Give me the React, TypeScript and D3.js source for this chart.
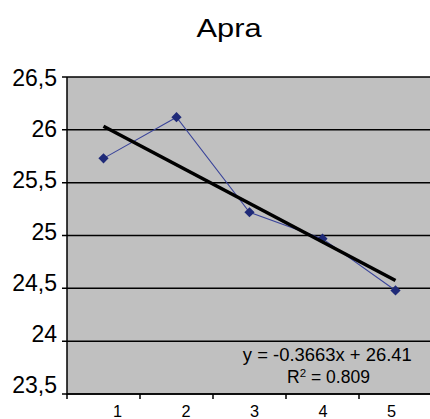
import React from "react";
import * as d3 from "d3";

const title = "Apra";
const categories = [1, 2, 3, 4, 5];
const values = [25.73, 26.12, 25.22, 24.97, 24.48];
const yTicks = [23.5, 24, 24.5, 25, 25.5, 26, 26.5];
const equationText = "y = -0.3663x + 26.41";
const r2Value = "0.809";

const W = 430;
const H = 419;
const left = 67;
const right = 432;
const top = 77;
const bottom = 394;
const step = 73;

export default function App() {
  const x = d3
    .scaleBand<number>()
    .domain(categories)
    .range([left, left + step * categories.length])
    .padding(0);
  const xPos = (c: number) => (x(c) as number) + x.bandwidth() / 2;
  const xLabel = d3.scalePoint<number>().domain(categories).range([117.5, 391.5]);
  const y = d3.scaleLinear().domain([23.5, 26.5]).range([bottom, top]);
  const yLabel = d3.scaleLinear().domain([23.5, 26.5]).range([385, 77.5]);

  // linear regression for trendline
  const n = values.length;
  const mx = d3.mean(categories)!;
  const my = d3.mean(values)!;
  const slope =
    d3.sum(categories.map((xi, i) => (xi - mx) * (values[i] - my))) /
    d3.sum(categories.map((xi) => (xi - mx) ** 2));
  const intercept = my - slope * mx;
  const trend = [categories[0], categories[n - 1]].map(
    (c) => [xPos(c), y(intercept + slope * c)] as [number, number]
  );

  const line = d3
    .line<number>()
    .x((_, i) => xPos(categories[i]))
    .y((v) => y(v));
  const marker = d3.symbol().type(d3.symbolSquare).size(52)()!;

  const tickXs = categories.map((c) => x(c) as number).concat([left + step * categories.length]);

  return (
    <svg
      width={W}
      height={H}
      style={{ position: "absolute", left: 0, top: 0, fontFamily: "Arial, 'Liberation Sans', sans-serif" }}
    >
      <rect x={0} y={0} width={W} height={H} fill="#fff" />
      <text x={229} y={37} textAnchor="middle" fontSize={26.5} fill="#000" textLength={65} lengthAdjust="spacingAndGlyphs">
        {title}
      </text>
      <rect x={left} y={top} width={right - left} height={bottom - top} fill="#c0c0c0" />
      {yTicks.map((t) => (
        <g key={t}>
          <line x1={left - 5} x2={right} y1={y(t)} y2={y(t)} stroke="#000" strokeWidth={1.5} />
          <text x={57} y={yLabel(t)} dy="0.36em" textAnchor="end" fontSize={23} fill="#000">
            {String(t).replace(".", ",")}
          </text>
        </g>
      ))}
      <line x1={left} x2={left} y1={top} y2={bottom + 1} stroke="#000" strokeWidth={1.5} />
      <line x1={left} x2={right} y1={bottom} y2={bottom} stroke="#000" strokeWidth={1.5} />
      {tickXs.map((tx, i) => (
        <line key={i} x1={tx} x2={tx} y1={bottom} y2={bottom + 5} stroke="#000" strokeWidth={1.5} />
      ))}
      {categories.map((c) => (
        <text key={c} x={xLabel(c)} y={417.3} textAnchor="middle" fontSize={16.3} fill="#000">
          {c}
        </text>
      ))}
      <path d={line(values)!} fill="none" stroke="#3a449a" strokeWidth={1.1} />
      {values.map((v, i) => (
        <path
          key={i}
          d={marker}
          transform={`translate(${xPos(categories[i])},${y(v)}) rotate(45)`}
          fill="#1f2a78"
        />
      ))}
      <line
        x1={trend[0][0]}
        y1={trend[0][1]}
        x2={trend[1][0]}
        y2={trend[1][1]}
        stroke="#000"
        strokeWidth={3.6}
      />
      <text x={327.3} y={360.7} textAnchor="middle" fontSize={17.5} fill="#000" textLength={169} lengthAdjust="spacingAndGlyphs">
        {equationText}
      </text>
      <text x={328.5} y={383.3} textAnchor="middle" fontSize={17.5} fill="#000">
        R
        <tspan dy={-6.5} fontSize={11.5}>2</tspan>
        <tspan dy={6.5}> = {r2Value}</tspan>
      </text>
    </svg>
  );
}
